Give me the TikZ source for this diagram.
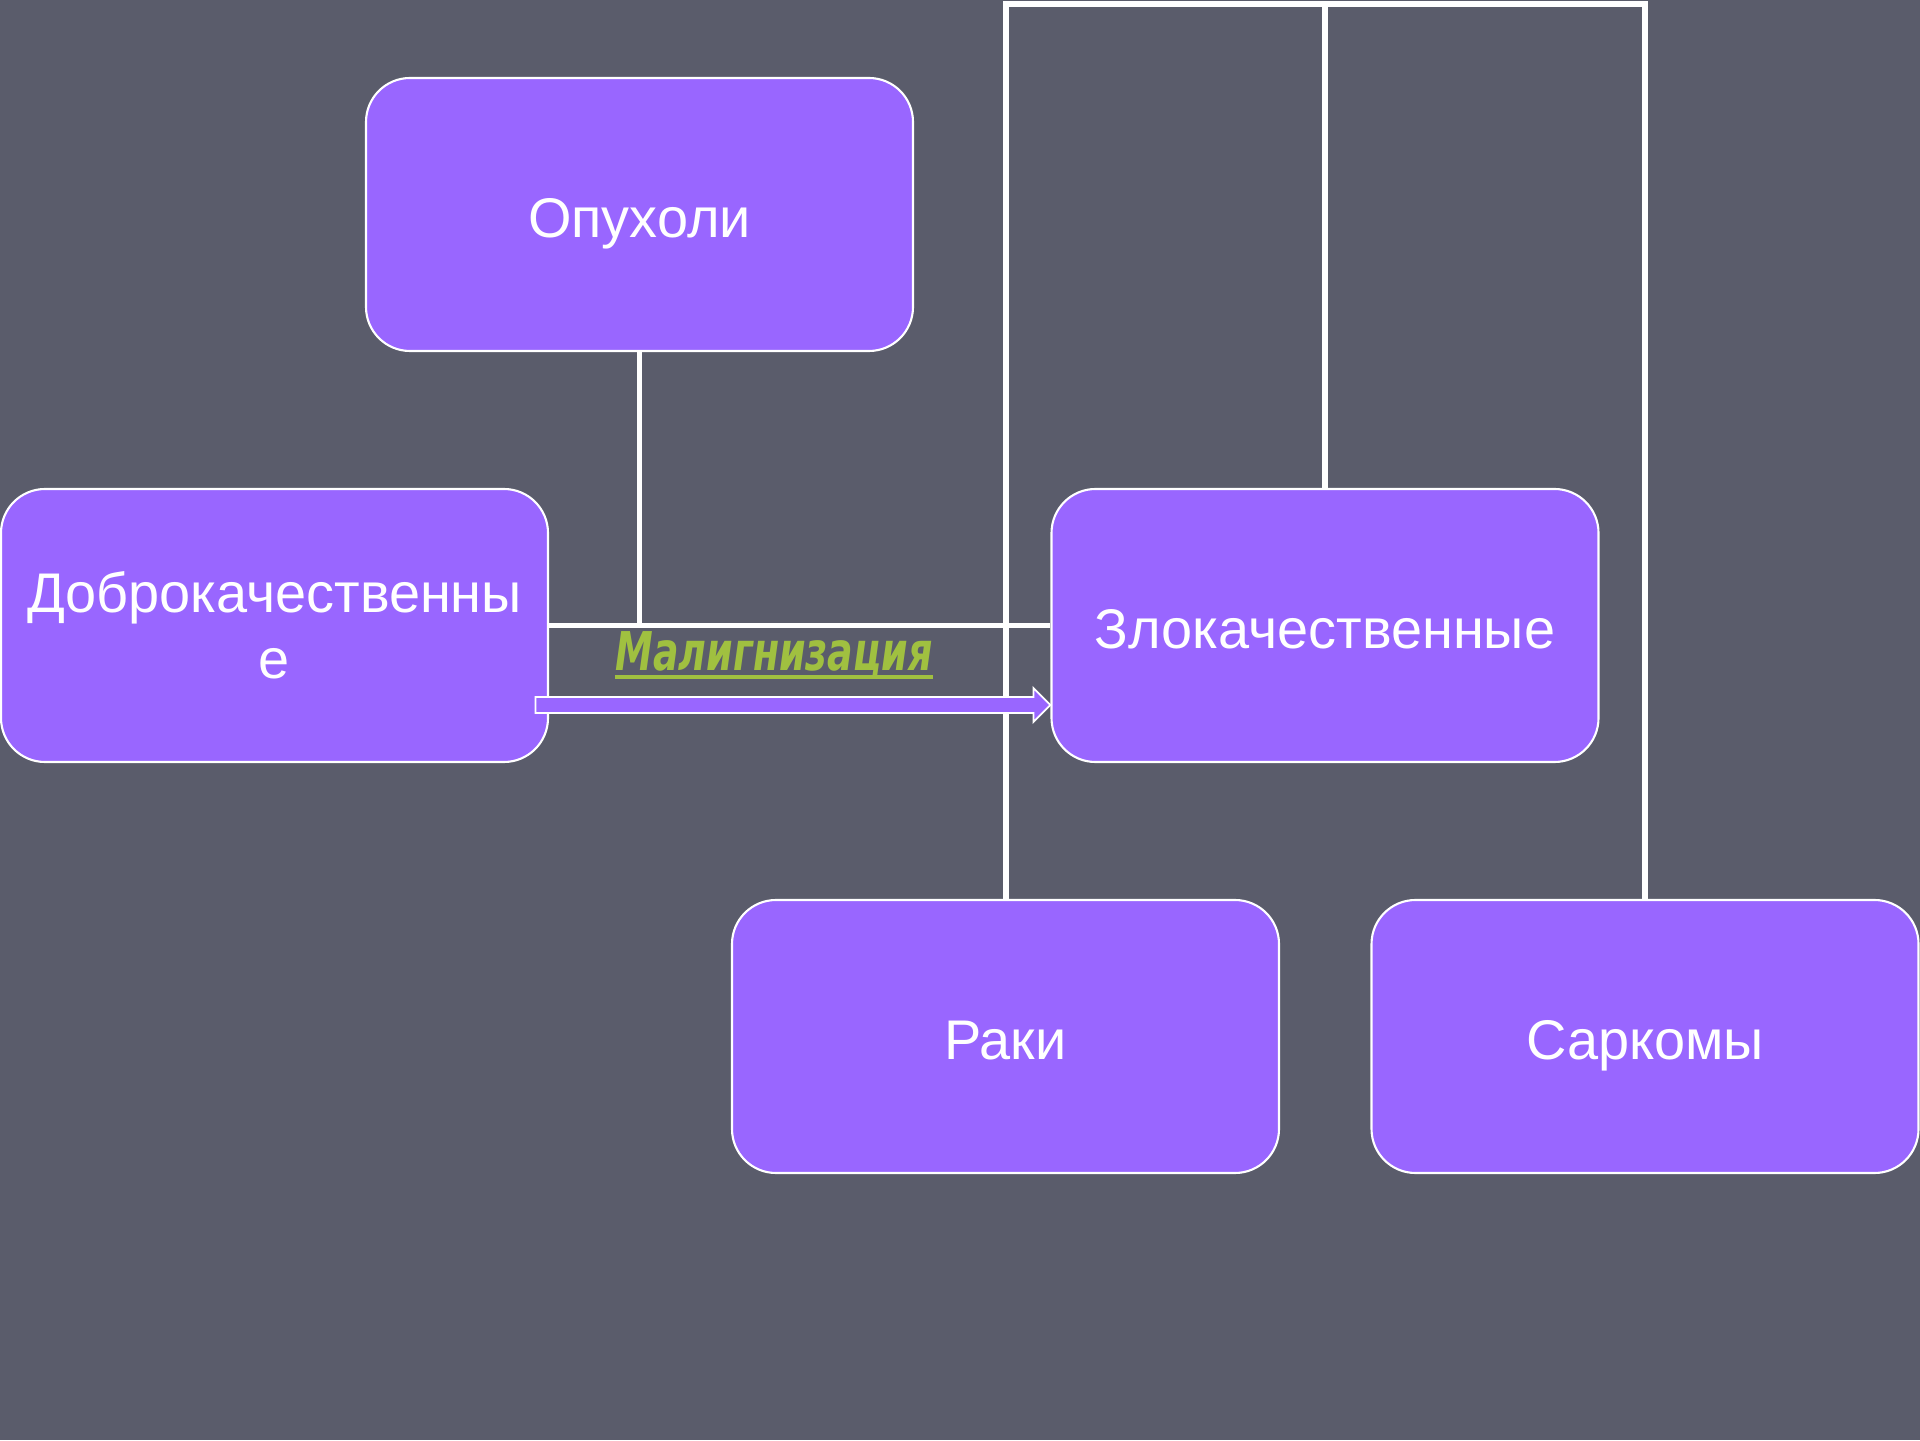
\documentclass[tikz,border=0pt]{standalone}
\usepackage{fontspec}
\setmainfont{Liberation Sans}
\newfontfamily\malfont[FakeStretch=0.71]{DejaVu Sans}
\usetikzlibrary{calc}
\definecolor{slide}{RGB}{90,92,107}
\definecolor{boxfill}{RGB}{153,102,255}
\definecolor{malgreen}{RGB}{160,192,64}
\tikzset{unit/.style={rectangle,rounded corners=4.4mm,draw=white,line width=0.6pt,fill=boxfill,
                      text=white,minimum width=54.7mm,minimum height=27.3mm,inner sep=0pt,
                      font=\fontsize{15.9}{18.8}\selectfont,align=center},
         oneline/.style={text height=13pt,text depth=0pt},
         link/.style={draw=white,line width=1.7pt},
         blockarrow/.style={draw=white,fill=boxfill,line width=0.5pt}}

\begin{document}
\begin{tikzpicture}[x=10mm,y=10mm]
  \fill[slide] (0,0) rectangle (19.2,14.4);
  \useasboundingbox (0,0) rectangle (19.2,14.4);
  \node[unit,oneline] (opuh) at (6.395,12.255) {Опухоли};
  \node[unit] (dobro) at (2.745,8.145) {Доброкачественны\\е};
  \node[unit,oneline] (zlo) at (13.25,8.145) {Злокачественные};
  \node[unit,oneline] (raki) at (10.055,4.035) {Раки};
  \node[unit,oneline] (sark) at (16.45,4.035) {Саркомы};
  \coordinate (top) at (10.05,14.355);
  \draw[link] (opuh.south) -- (opuh.south |- dobro.east);
  \draw[link] (dobro.east) -- (zlo.west);
  \draw[link] (zlo.north) -- (zlo.north |- top);
  \draw[link] (raki.north) -- (raki.north |- top) -- (sark.north |- top) -- (sark.north);
  % arrow from benign to malignant
  \coordinate (tip) at ($(zlo.west)+(0,-0.795)$);
  \draw[blockarrow] (tip) -- ++(-0.17,0.17) -- ++(0,-0.09) -- ++(-4.98,0) -- ++(0,-0.16)
    -- ++(4.98,0) -- ++(0,-0.09) -- cycle;
  \node[anchor=base,inner sep=0pt,text=malgreen,font=\malfont\bfseries\itshape\fontsize{15.2}{18}\selectfont]
    (malign) at (7.74,7.69) {Малигнизация};
  \draw[malgreen,line width=1.2pt] ($(malign.base west)+(0,-0.06)$) -- ($(malign.base east)+(0,-0.06)$);
\end{tikzpicture}
\end{document}
